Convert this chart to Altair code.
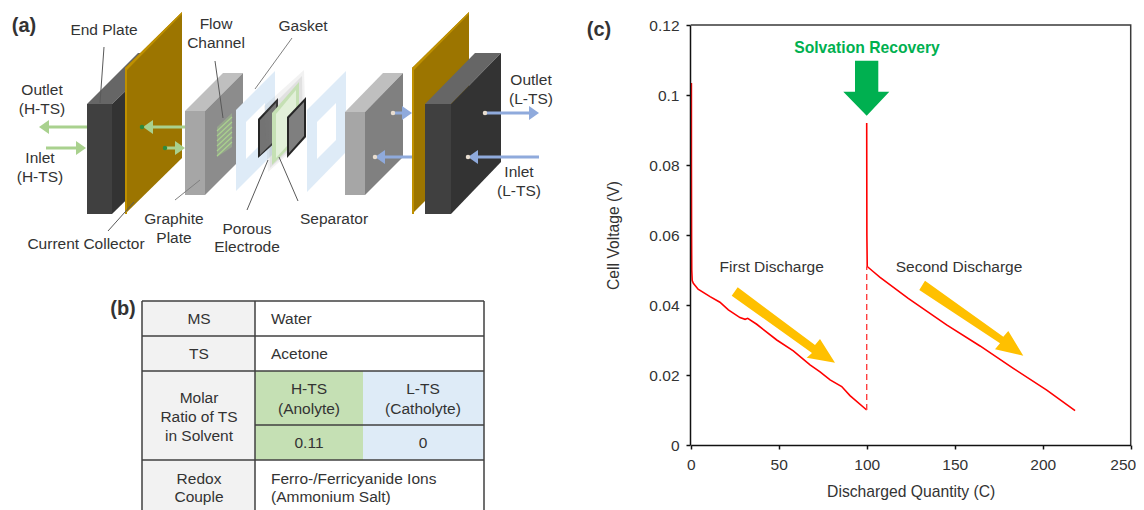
import altair as alt
import pandas as pd

FONT = "Liberation Sans"
INK = "#333333"

# ---- panel (c): discharge curve
first_q = [0.4, 0.42, 0.5, 0.6, 0.85, 1.5, 4.2, 11, 16.6, 21.4, 28, 30.9, 32.4, 37.5, 48.9, 58.3, 67.8, 73.5, 79.2, 85.8, 90.5, 100]
first_v = [0.1034, 0.08, 0.06, 0.05, 0.047, 0.0462, 0.0445, 0.0424, 0.0408, 0.0386, 0.0364, 0.0359, 0.0362, 0.0345, 0.03, 0.0269, 0.0229, 0.0209, 0.0186, 0.0167, 0.0141, 0.01]
second_q = [100, 100.1, 100.3, 103.8, 107.6, 123.6, 145.4, 164.4, 183.3, 202.3, 218.4]
second_v = [0.092, 0.06, 0.051, 0.0495, 0.0479, 0.0419, 0.0343, 0.0283, 0.0219, 0.0157, 0.0098]
dash_q = [100, 100]
dash_v = [0.01, 0.051]
x_ticks = [0, 50, 100, 150, 200, 250]
y_ticks = [0, 0.02, 0.04, 0.06, 0.08, 0.1, 0.12]
frame_q = [0, 250, 250]
frame_v = [0.12, 0.12, 0]

# ---- schematic shapes, in picture units: (colour, opacity, outline)
polys = [
    ("#666666", 1, [(87, 104), (112, 104), (165, 53), (138, 53)]),
    ("#333333", 1, [(112, 104), (165, 53), (165, 162), (112, 214)]),
    ("#404040", 1, [(87, 104), (112, 104), (112, 214), (87, 214)]),
    ("#9C7500", 1, [(125, 68), (182, 12), (182, 158), (125, 214)]),
    ("#BF9000", 1, [(125, 68), (127, 67), (127, 214), (125, 214)]),
    ("#BF9000", 1, [(125, 68), (182, 12), (182, 14), (127, 70)]),
    ("#BFBFBF", 1, [(185, 111), (205, 111), (243, 73), (223, 73)]),
    ("#8C8C8C", 1, [(205, 111), (243, 73), (243, 157), (205, 195)]),
    ("#A6A6A6", 1, [(185, 111), (205, 111), (205, 195), (185, 195)]),
    ("#A9D18E", 0.35, [(217, 127), (232, 113), (232, 147), (217, 157)]),
    ("#DEEBF7", 1, [(236, 110), (275, 71), (275, 152), (236, 191)]),
    ("#FFFFFF", 1, [(246, 122), (265, 103), (265, 140), (246, 159)]),
    ("#262626", 1, [(258, 119), (278, 98), (278, 140), (258, 158)]),
    ("#737373", 1, [(260, 120), (276, 103), (276, 139), (260, 155)]),
    ("#808080", 0.10, [(264, 106), (304, 70), (306, 138), (268, 172)]),
    ("#808080", 0.14, [(268, 110), (302, 76), (303, 138), (270, 168)]),
    ("#C5E0B4", 1, [(272, 113), (299, 82), (299, 138), (272, 165)]),
    ("#E2F0D9", 1, [(276, 114), (296, 90), (296, 136), (276, 158)]),
    ("#262626", 1, [(287, 117), (306, 97), (306, 137), (287, 158)]),
    ("#7F7F7F", 1, [(289, 118), (304, 102), (304, 136), (289, 153)]),
    ("#DEEBF7", 1, [(307, 110), (346, 71), (346, 152), (307, 192)]),
    ("#FFFFFF", 1, [(317, 122), (336, 103), (336, 140), (317, 159)]),
    ("#BFBFBF", 1, [(345, 112), (365, 112), (403, 73), (383, 73)]),
    ("#808080", 1, [(365, 112), (403, 73), (403, 157), (365, 195)]),
    ("#A6A6A6", 1, [(345, 112), (365, 112), (365, 195), (345, 195)]),
    ("#9C7500", 1, [(412, 68), (469, 12), (469, 157), (412, 214)]),
    ("#BF9000", 1, [(412, 68), (414, 67), (414, 214), (412, 214)]),
    ("#BF9000", 1, [(412, 68), (469, 12), (469, 14), (414, 70)]),
    ("#666666", 1, [(425, 104), (451, 104), (501, 53), (475, 53)]),
    ("#404040", 1, [(425, 104), (451, 104), (451, 214), (425, 214)]),
    ("#333333", 1, [(451, 104), (501, 53), (501, 162), (451, 214)]),
    # table cells
    ("#F2F2F2", 1, [(142, 301), (255, 301), (255, 510), (142, 510)]),
    ("#C5E0B4", 1, [(255, 371), (363, 371), (363, 460), (255, 460)]),
    ("#DEEBF7", 1, [(363, 371), (484, 371), (484, 460), (363, 460)]),
    # arrow heads
    ("#A9D18E", 1, [(39, 127), (49, 120), (49, 134)]),
    ("#A9D18E", 1, [(86, 148), (76, 141), (76, 155)]),
    ("#A9D18E", 1, [(143, 127), (153, 120), (153, 134)]),
    ("#A9D18E", 1, [(185, 148), (175, 141), (175, 155)]),
    ("#8FAADC", 1, [(412, 113), (402, 106), (402, 120)]),
    ("#8FAADC", 1, [(375, 157), (385, 150), (385, 164)]),
    ("#8FAADC", 1, [(539, 113), (529, 106), (529, 120)]),
    ("#8FAADC", 1, [(468, 157), (478, 150), (478, 164)]),
    # panel (c) call-outs
    ("#FFC000", 1, [(737.7, 287.3), (731.7, 295.7), (812, 353), (806.7, 357.7), (835, 362.7), (820, 339), (815, 345)]),
    ("#FFC000", 1, [(925, 280.7), (919.3, 290), (1000, 343.3), (995, 349.3), (1023.3, 355.7), (1008.3, 331), (1003.3, 336.7)]),
    ("#00B050", 1, [(855, 60.7), (878.3, 60.7), (878.3, 91.7), (889.3, 91.7), (866.7, 115.7), (843.3, 91.7), (855, 91.7)]),
]

# thin strokes: (colour, width, x1, y1, x2, y2)
segments = [
    ("#A9D18E", 3, 87, 127, 45, 127), ("#A9D18E", 3, 46, 148, 80, 148),
    ("#A9D18E", 3, 185, 127, 150, 127), ("#A9D18E", 3, 165, 148, 180, 148),
    ("#8FAADC", 3, 393, 113, 406, 113), ("#8FAADC", 3, 412, 157, 380, 157),
    ("#8FAADC", 3, 485, 113, 534, 113), ("#8FAADC", 3, 539, 157, 473, 157),
    ("#A9D18E", 1.2, 217, 131, 232, 117), ("#A9D18E", 1.2, 217, 136, 232, 122),
    ("#A9D18E", 1.2, 217, 141, 232, 127), ("#A9D18E", 1.2, 217, 146, 232, 132),
    ("#A9D18E", 1.2, 217, 151, 232, 137), ("#A9D18E", 1.2, 217, 156, 232, 142),
    ("#595959", 1, 104, 47, 100, 103), ("#595959", 1, 215, 61, 223, 118),
    ("#808080", 1, 292, 38, 255, 89), ("#595959", 1, 134, 202, 108, 231),
    ("#808080", 1, 200, 180, 175, 200), ("#595959", 1, 268, 160, 247, 210),
    ("#595959", 1, 279, 157, 298, 201),
    # table rules
    ("#404040", 1.5, 142, 301, 484, 301), ("#404040", 1.5, 142, 336, 484, 336),
    ("#404040", 1.5, 142, 371, 484, 371), ("#404040", 1.5, 255, 425, 484, 425),
    ("#404040", 1.5, 142, 460, 484, 460), ("#404040", 1.5, 142, 301, 142, 510),
    ("#404040", 1.5, 255, 301, 255, 510), ("#404040", 1.5, 484, 301, 484, 510),
]

dots = [
    ("#2E8B3D", 142, 127), ("#2E8B3D", 165, 148),
    ("#E8DDD0", 393, 113), ("#E8DDD0", 375, 157),
    ("#E8DDD0", 485, 113), ("#E8DDD0", 468, 157),
]

labels = [
    ("End Plate", 104, 30, "center"), ("Outlet", 42, 90, "center"), ("(H-TS)", 42, 109, "center"),
    ("Inlet", 40, 158, "center"), ("(H-TS)", 40, 177, "center"), ("Flow", 216, 24, "center"),
    ("Channel", 216, 43, "center"), ("Gasket", 303, 26, "center"), ("Graphite", 174, 219, "center"),
    ("Plate", 174, 238, "center"), ("Current Collector", 86, 244, "center"), ("Porous", 247, 229, "center"),
    ("Electrode", 247, 247, "center"), ("Separator", 334, 219, "center"), ("Outlet", 531, 80, "center"),
    ("(L-TS)", 531, 99, "center"), ("Inlet", 519, 172, "center"), ("(L-TS)", 519, 191, "center"),
    ("MS", 199, 319, "center"), ("TS", 199, 354, "center"), ("Molar", 199, 398, "center"),
    ("Ratio of TS", 199, 417, "center"), ("in Solvent", 199, 436, "center"), ("Water", 271, 319, "left"),
    ("Acetone", 271, 354, "left"), ("H-TS", 309, 389, "center"), ("(Anolyte)", 309, 409, "center"),
    ("L-TS", 423, 389, "center"), ("(Catholyte)", 423, 409, "center"), ("0.11", 309, 443, "center"),
    ("0", 423, 443, "center"), ("Redox", 199, 479, "center"), ("Couple", 199, 497, "center"),
    ("Ferro-/Ferricyanide Ions", 271, 479, "left"), ("(Ammonium Salt)", 271, 497, "left"),
    ("First Discharge", 771.7, 267, "center"), ("Second Discharge", 959, 267, "center"),
]
bold_labels = [
    ("(a)", 24, 26, INK, 20), ("(b)", 123, 309, INK, 20), ("(c)", 599, 30, INK, 20),
    ("Solvation Recovery", 867, 48, "#00B050", 15.7),
]

# ---- picture-unit scales for the schematic
W = 1128
px = alt.Scale(domain=[8, 8 + W], range=[0, W])
py = alt.Scale(domain=[8, 510], range=[0, 502])
X = alt.X("x:Q", scale=px, axis=None)
Y = alt.Y("y:Q", scale=py, axis=None)

poly_rows = [
    {"id": k, "i": i, "x": p[0], "y": p[1], "c": c, "o": o}
    for k, (c, o, pts) in enumerate(polys) for i, p in enumerate(pts)
]
poly_layer = alt.Chart(pd.DataFrame(poly_rows)).mark_line(strokeWidth=0, interpolate="linear").encode(
    x=X, y=Y, order="i:Q", detail="id:N",
    fill=alt.Fill("c:N", scale=None), fillOpacity=alt.FillOpacity("o:Q", scale=None),
)

seg_rows = [
    {"id": k, "x": s[2], "y": s[3], "x2": s[4], "y2": s[5], "c": s[0], "w": s[1]}
    for k, s in enumerate(segments)
]
seg_layer = alt.Chart(pd.DataFrame(seg_rows)).mark_rule().encode(
    x=X, y=Y, x2="x2:Q", y2="y2:Q",
    color=alt.Color("c:N", scale=None), strokeWidth=alt.StrokeWidth("w:Q", scale=None),
)

dot_layer = alt.Chart(pd.DataFrame(dots, columns=["c", "x", "y"])).mark_circle(size=20, opacity=1).encode(
    x=X, y=Y, color=alt.Color("c:N", scale=None)
)

left = pd.DataFrame([r for r in labels if r[3] == "left"], columns=["t", "x", "y", "a"])
center = pd.DataFrame([r for r in labels if r[3] == "center"], columns=["t", "x", "y", "a"])
text_c = alt.Chart(center).mark_text(font=FONT, fontSize=15.5, color=INK, align="center", baseline="middle").encode(x=X, y=Y, text="t:N")
text_l = alt.Chart(left).mark_text(font=FONT, fontSize=15.5, color=INK, align="left", baseline="middle").encode(x=X, y=Y, text="t:N")
text_b = alt.Chart(pd.DataFrame(bold_labels, columns=["t", "x", "y", "c", "s"])).mark_text(
    font=FONT, fontWeight="bold", align="center", baseline="middle"
).encode(x=X, y=Y, text="t:N", color=alt.Color("c:N", scale=None), size=alt.Size("s:Q", scale=None))

# ---- panel (c), with real axes
qx = alt.Scale(domain=[0, 250], range=[682.7, 1122.7])
vy = alt.Scale(domain=[0, 0.12], range=[437, 17])
common = dict(
    grid=False, domain=True, ticks=True, domainColor="#111111", tickColor="#111111", domainWidth=1.5, tickWidth=1.5,
    tickSize=4, labelColor=INK, titleColor=INK, labelFontSize=15.5, titleFontSize=15.7, labelFont=FONT,
    titleFont=FONT, titleFontWeight="normal", labelFlush=False, labelOverlap=False, zindex=1,
)
last_x = "datum.value == 250"
AX = alt.Axis(values=x_ticks, orient="bottom", offset=-65, title="Discharged Quantity (C)", labelPadding=8, titlePadding=12, format="d",
              labelAlign={"condition": {"test": last_x, "value": "right"}, "value": "center"},
              labelOffset={"condition": {"test": last_x, "value": 5}, "value": 0},
              **common)
AY = alt.Axis(values=y_ticks, orient="left", offset=-682, title="Cell Voltage (V)", labelPadding=7, titlePadding=27,
              labelExpr="toString(datum.value)", **common)

curve1 = alt.Chart(pd.DataFrame({"q": first_q, "v": first_v, "k": range(len(first_q))})).mark_line(color="#FF0000", strokeWidth=1.6).encode(
    x=alt.X("q:Q", scale=qx, axis=AX), y=alt.Y("v:Q", scale=vy, axis=AY), order="k:Q")
curve2 = alt.Chart(pd.DataFrame({"q": second_q, "v": second_v, "k": range(len(second_q))})).mark_line(color="#FF0000", strokeWidth=1.6).encode(
    x=alt.X("q:Q", scale=qx, axis=None), y=alt.Y("v:Q", scale=vy, axis=None), order="k:Q")
curve3 = alt.Chart(pd.DataFrame({"q": dash_q, "v": dash_v, "k": range(2)})).mark_line(color="#FF4040", strokeWidth=1.4, strokeDash=[6, 4]).encode(
    x=alt.X("q:Q", scale=qx, axis=None), y=alt.Y("v:Q", scale=vy, axis=None), order="k:Q")
frame = alt.Chart(pd.DataFrame({"q": frame_q, "v": frame_v, "k": range(3)})).mark_line(color="#3A3A3A", strokeWidth=1.5).encode(
    x=alt.X("q:Q", scale=qx, axis=None), y=alt.Y("v:Q", scale=vy, axis=None), order="k:Q")

chart = alt.layer(
    poly_layer, seg_layer, dot_layer, frame, curve1, curve2, curve3, text_c, text_l, text_b
).resolve_scale(x="independent", y="independent").resolve_axis(x="independent", y="independent").properties(
    width=W, height=502, padding=0, autosize=alt.AutoSizeParams(type="none"), background="white"
).configure_view(stroke=None)

chart.save("out.html", embed_options={"renderer": "svg", "actions": False})
